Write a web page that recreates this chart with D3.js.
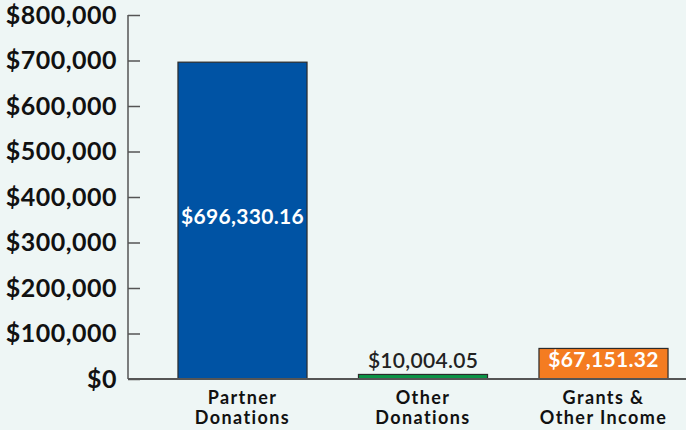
<!DOCTYPE html>
<html lang="en">
<head>
<meta charset="UTF-8">
<title>Income</title>
<script src="https://cdn.jsdelivr.net/npm/d3@7"></script>
<style>
  body { margin: 0; background: #eef6f5; }
  svg { display: block; }
</style>
</head>
<body>
<div id="container"></div>
<script>
const categories = [["Partner", "Donations"], ["Other", "Donations"], ["Grants &", "Other Income"]];
const values = [696330.16, 10004.05, 67151.32];
const labels = ["$696,330.16", "$10,004.05", "$67,151.32"];
const colors = ["#0053a4", "#0a9447", "#f47c21"];
const yTicks = [0, 100000, 200000, 300000, 400000, 500000, 600000, 700000, 800000];

const width = 686, height = 430;
const font = "Lato, 'Open Sans', sans-serif";

const svg = d3.select("#container").append("svg")
    .attr("width", width)
    .attr("height", height);

const y = d3.scaleLinear().domain([0, 800000]).range([379, 15]);
const x = d3.scaleBand()
    .domain(d3.range(values.length))
    .range([152.25, 693.75])
    .paddingInner(0.285)
    .paddingOuter(0.1425);

// y axis, ticks pointing right
const yAxis = svg.append("g")
    .attr("transform", "translate(128,0)")
    .call(d3.axisLeft(y).tickValues(yTicks).tickSize(-12).tickPadding(11)
        .tickFormat(d => "$" + d3.format(",")(d)));
yAxis.select(".domain").attr("stroke", "#555").attr("stroke-width", 1.5).attr("d", "M0,15V379");
yAxis.selectAll(".tick line").attr("stroke", "#555").attr("stroke-width", 1.5);
yAxis.selectAll(".tick text")
    .attr("fill", "#111")
    .attr("font-family", font)
    .attr("font-weight", 700)
    .attr("font-size", 25)
    .attr("letter-spacing", 0.5);

// bars
svg.append("g").selectAll("rect")
    .data(values)
    .join("rect")
    .attr("x", (d, i) => x(i))
    .attr("width", x.bandwidth())
    .attr("y", d => y(d))
    .attr("height", d => y(0) - y(d))
    .attr("fill", (d, i) => colors[i])
    .attr("stroke", "#2b2b2b")
    .attr("stroke-width", 1.2);

// baseline
svg.append("line")
    .attr("x1", 128).attr("x2", width)
    .attr("y1", y(0)).attr("y2", y(0))
    .attr("stroke", "#555").attr("stroke-width", 2);

// value labels
const labelPos = [
    { y: y(values[0] / 2) + 3, fill: "#fff", weight: 700 },
    { y: y(values[1]) - 6, fill: "#222", weight: 600 },
    { y: y(values[2] / 2) + 3.5, fill: "#fff", weight: 700 }
];
svg.append("g").selectAll("text")
    .data(labels)
    .join("text")
    .attr("x", (d, i) => x(i) + x.bandwidth() / 2)
    .attr("y", (d, i) => labelPos[i].y)
    .attr("text-anchor", "middle")
    .attr("font-family", font)
    .attr("font-size", 21)
    .attr("letter-spacing", 0.3)
    .attr("font-weight", (d, i) => labelPos[i].weight)
    .attr("fill", (d, i) => labelPos[i].fill)
    .text(d => d);

// category labels, two lines each
const catG = svg.append("g")
    .attr("text-anchor", "middle")
    .attr("font-family", font)
    .attr("font-size", 18)
    .attr("font-weight", 700)
    .attr("letter-spacing", 1.4)
    .attr("fill", "#111");
[0, 1].forEach(line => {
    catG.append("g").selectAll("text")
        .data(categories)
        .join("text")
        .attr("x", (d, i) => x(i) + x.bandwidth() / 2)
        .attr("y", 403.5 + line * 20)
        .text(d => d[line]);
});
</script>
</body>
</html>
